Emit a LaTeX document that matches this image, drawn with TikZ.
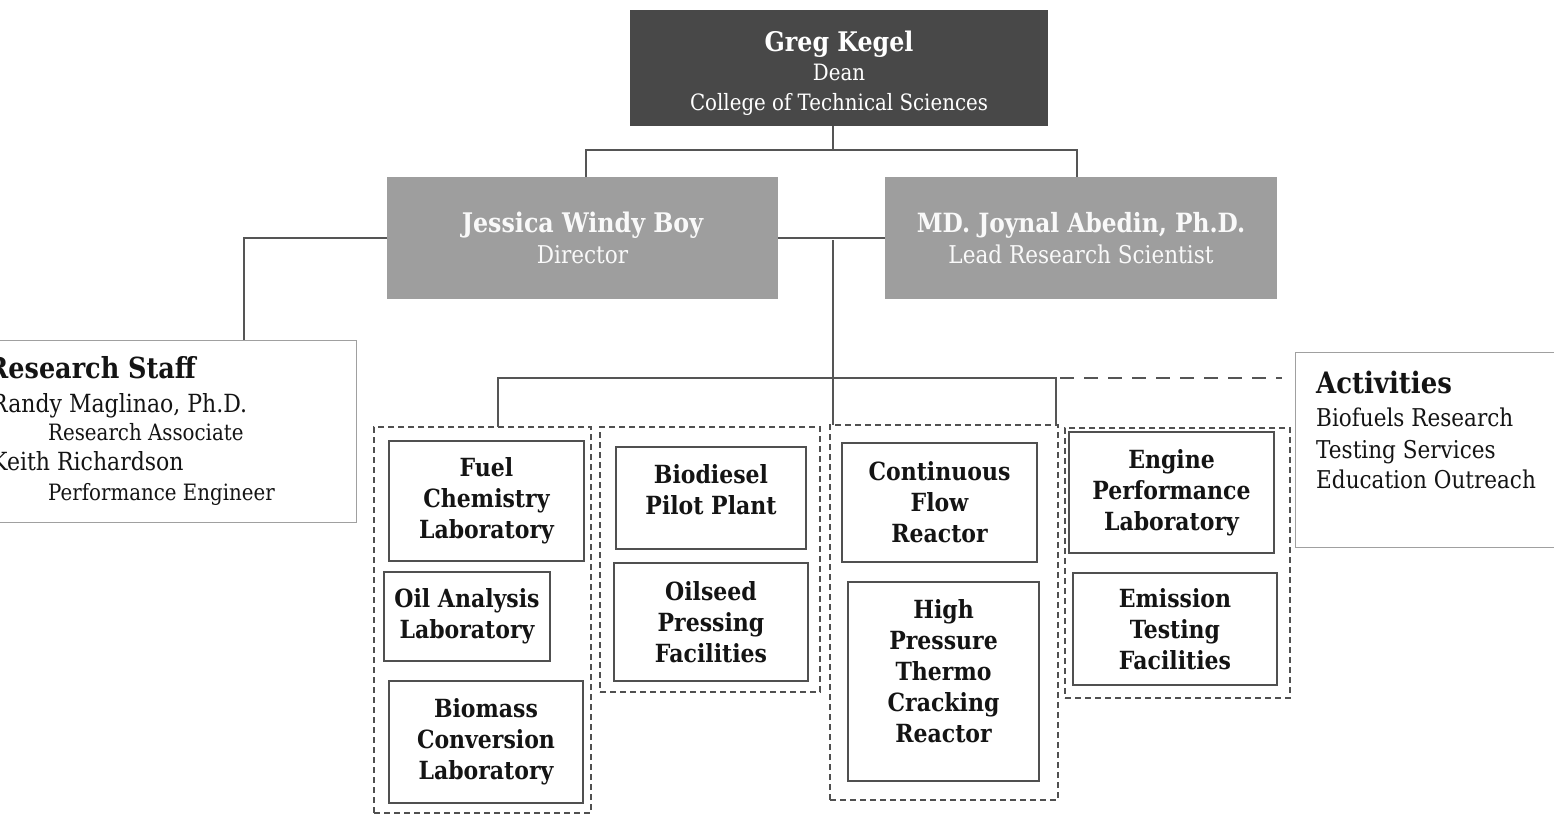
\documentclass[tikz,border=0pt]{standalone}
\usepackage{fontspec}
\setmainfont{DejaVu Serif}[FakeStretch=0.88]
\definecolor{deanfill}{RGB}{72,72,72}
\definecolor{dirfill}{RGB}{158,158,158}
\definecolor{linec}{RGB}{85,85,85}
\definecolor{boxc}{RGB}{80,80,80}
\definecolor{infoc}{RGB}{160,160,160}
\definecolor{txt}{RGB}{20,20,20}
\tikzset{
  dean/.style={fill=deanfill, draw=none, inner sep=0pt, outer sep=0pt},
  deantext/.style={inner sep=0pt, text=white, align=center, font=\fontsize{22.5}{29.5}\selectfont},
  dir/.style={fill=dirfill, draw=none, inner sep=0pt, outer sep=0pt, text=white!95!gray, align=center, font=\fontsize{24.5}{31}\selectfont},
  grp/.style={draw=boxc, line width=1.4pt, dash pattern=on 6pt off 4pt, inner sep=0pt, outer sep=0pt},
  lab/.style={draw=boxc, line width=1.4pt, fill=white, inner sep=0pt, outer sep=0pt, align=center, text=txt, font=\fontsize{25}{31}\selectfont\bfseries},
  info/.style={draw=infoc, line width=1pt, inner sep=0pt, outer sep=0pt},
  conn/.style={draw=linec, line width=2pt},
  dconn/.style={draw=linec, line width=2pt, dash pattern=on 14pt off 10pt},
  itxt/.style={inner sep=0pt, anchor=base west, text=txt},
}
\begin{document}
\begin{tikzpicture}[x=1pt,y=-1pt]
\useasboundingbox (0,0) rectangle (1554,815);
\clip (0,0) rectangle (1554,815);
\fill[white] (0,0) rectangle (1554,815);

% top level
\node[dean, minimum width=418pt, minimum height=116pt] (dean) at (839,68) {};
\node[deantext] (deant) at (839,73)
  {{\fontsize{27}{29.5}\selectfont\bfseries Greg Kegel}\\ Dean\\ College of Technical Sciences};
\node[dir, minimum width=391pt, minimum height=122pt] (jess) at (582.5,238)
  {{\fontsize{27}{31}\selectfont\bfseries Jessica Windy Boy}\\ Director};
\node[dir, minimum width=392pt, minimum height=122pt] (md) at (1081,238)
  {{\fontsize{26.5}{31}\selectfont\bfseries MD. Joynal Abedin, Ph.D.}\\ Lead Research Scientist};

% info boxes
\node[info, minimum width=376pt, minimum height=182pt] (rs) at (168,431) {};
\node[itxt, font=\fontsize{29}{30}\selectfont\bfseries] (rs1) at (-13,378) {Research Staff};
\node[itxt, font=\fontsize{25}{30}\selectfont] (rs2) at (-9,412) {Randy Maglinao, Ph.D.};
\node[itxt, font=\fontsize{22.5}{30}\selectfont] (rs3) at (48,440) {Research Associate};
\node[itxt, font=\fontsize{25}{30}\selectfont] (rs4) at (-9,470) {Keith Richardson};
\node[itxt, font=\fontsize{22.5}{30}\selectfont] (rs5) at (48,500) {Performance Engineer};

\node[info, minimum width=265pt, minimum height=195pt] (act) at (1427.5,449.5) {};
\node[itxt, font=\fontsize{29.5}{30}\selectfont\bfseries] (a1) at (1316,393) {Activities};
\node[itxt, font=\fontsize{24.5}{30}\selectfont] (a2) at (1316,426) {Biofuels Research};
\node[itxt, font=\fontsize{24.5}{30}\selectfont] (a3) at (1316,458) {Testing Services};
\node[itxt, font=\fontsize{24.5}{30}\selectfont] (a4) at (1316,488) {Education Outreach};

% groups
\node[grp, minimum width=217pt, minimum height=386pt] (g1) at (482.5,620) {};
\node[grp, minimum width=220pt, minimum height=265pt] (g2) at (710,559.5) {};
\node[grp, minimum width=228pt, minimum height=375pt] (g3) at (944,612.5) {};
\node[grp, minimum width=225pt, minimum height=270pt] (g4) at (1177.5,563) {};

% labs
\node[lab, minimum width=195pt, minimum height=120pt] (fuel) at (486.5,501) {Fuel\\Chemistry\\Laboratory};
\node[lab, minimum width=166pt, minimum height=89pt] (oil) at (467,616.5) {Oil Analysis\\Laboratory};
\node[lab, minimum width=194pt, minimum height=122pt] (bio) at (486,742) {Biomass\\Conversion\\Laboratory};
\node[lab, minimum width=190pt, minimum height=102pt] (biod) at (711,498) {Biodiesel\\Pilot Plant\\[-14pt]};
\node[lab, minimum width=194pt, minimum height=118pt] (oils) at (711,622) {Oilseed\\Pressing\\Facilities};
\node[lab, minimum width=195pt, minimum height=119pt] (cont) at (939.5,502.5) {Continuous\\Flow\\Reactor};
\node[lab, minimum width=191pt, minimum height=199pt] (hp) at (943.5,681.5) {High\\Pressure\\Thermo\\Cracking\\Reactor\\[-10pt]};
\node[lab, minimum width=205pt, minimum height=121pt] (eng) at (1171.5,492.5) {Engine\\Performance\\Laboratory};
\node[lab, minimum width=204pt, minimum height=112pt] (emis) at (1175,629) {Emission\\Testing\\Facilities};

% connectors
\coordinate (j1) at (833,150);
\coordinate (j2) at (833,240);
\coordinate (jl) at (498,378);
\coordinate (jr) at (1056,378);
\coordinate (dA) at (1060,378);
\coordinate (dB) at (1282,378);
\coordinate (rsTop) at (244,340);
\draw[conn] (dean.south -| j1) -- (j1);
\draw[conn] (jess.north -| 586,0) |- (j1) -| (md.north -| 1077,0);
\draw[conn] (jess.east) -- (md.west);
\draw[conn] (j2) -- (j2 |- g3.north);
\draw[conn] (jl |- g1.north) -- (jl) -- (jr) -- (jr |- g3.north);
\draw[conn] (jess.west) -| (rsTop);
\draw[dconn] (dA) -- (dB);
\end{tikzpicture}
\end{document}
